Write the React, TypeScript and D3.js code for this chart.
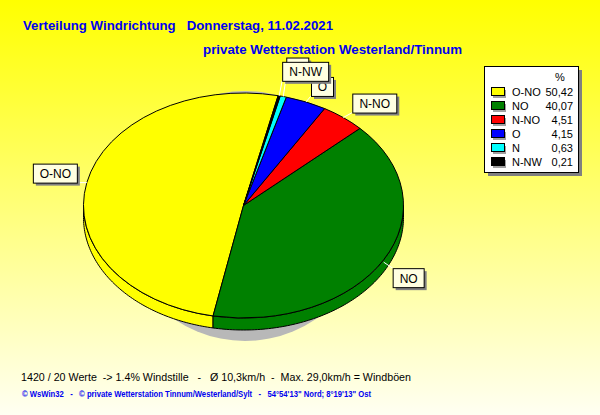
import React from "react";
import * as d3 from "d3";

// ---- data ----
const categories = ["O-NO", "NO", "N-NO", "O", "N", "N-NW"];
const percents = [50.42, 40.07, 4.51, 4.15, 0.63, 0.21];
const sliceColors = ["#ffff00", "#008000", "#ff0000", "#0000ff", "#00ffff", "#000000"];
const titleLine1 = "Verteilung Windrichtung   Donnerstag, 11.02.2021";
const titleLine2 = "private Wetterstation Westerland/Tinnum";
const footerLine1 = "1420 / 20 Werte  -> 1.4% Windstille   -   Ø 10,3km/h  -  Max. 29,0km/h = Windböen";
const footerLine2 = "© WsWin32   -   © private Wetterstation Tinnum/Westerland/Sylt   -   54°54'13\" Nord; 8°19'13\" Ost";

// ---- layout ----
const W = 600, H = 415;
const CX = 243.5, CY = 205.5, RX = 160, RY = 112.5, DEPTH = 12;
const START_DEG = 12.5;
const FONT = "'Liberation Sans', Arial, Helvetica, sans-serif";
// label box placement relative to its anchor point: corner of the box attached + offset
const labelLayout: { corner: string; dx: number; dy: number }[] = [
  { corner: "br", dx: -10, dy: 0 },
  { corner: "tl", dx: 9, dy: 6 },
  { corner: "bl", dx: 9, dy: -5 },
  { corner: "bl", dx: 5, dy: -6 },
  { corner: "bl", dx: 3, dy: -20 },
  { corner: "bl", dx: 3, dy: -15 },
];

const rad = (d: number) => (d * Math.PI) / 180;
const pt = (a: number, dy = 0): [number, number] => [CX + RX * Math.sin(a), CY - RY * Math.cos(a) + dy];

let ctx: CanvasRenderingContext2D | null = null;
function measure(text: string, font: string) {
  if (!ctx) ctx = document.createElement("canvas").getContext("2d");
  if (!ctx) return text.length * 7;
  ctx.font = font;
  return ctx.measureText(text).width;
}

export default function App() {
  const data = categories.map((c, i) => ({ name: c, value: percents[i], color: sliceColors[i] }));
  const pie = d3
    .pie<any>()
    .sort(null)
    .value((d) => d.value)
    .startAngle(rad(START_DEG))
    .endAngle(rad(START_DEG - 360));
  const arcs = pie(data);
  const arcGen = d3.arc<any>().innerRadius(0).outerRadius(RX);
  const k = RY / RX;

  // side walls (front half: d3 angle in [90,270] mod 360)
  const sides: { d: string; color: string }[] = [];
  arcs.forEach((a) => {
    const lo = Math.min(a.startAngle, a.endAngle);
    const hi = Math.max(a.startAngle, a.endAngle);
    for (let n = -2; n <= 1; n++) {
      const fLo = rad(90 + 360 * n), fHi = rad(270 + 360 * n);
      const s = Math.max(lo, fLo), e = Math.min(hi, fHi);
      if (e > s) {
        const steps = d3.range(s, e, rad(1)).concat([e]);
        const top = steps.map((t) => pt(t));
        const bot = steps.slice().reverse().map((t) => pt(t, DEPTH));
        const line = d3.line();
        sides.push({ d: line(top.concat(bot))! + "Z", color: a.data.color });
      }
    }
  });

  const labelFont = `12px ${FONT}`;
  const labels = arcs.map((a, i) => {
    const mid = (a.startAngle + a.endAngle) / 2;
    const m = ((mid % (2 * Math.PI)) + 2 * Math.PI) % (2 * Math.PI);
    const front = m > Math.PI / 2 && m < (3 * Math.PI) / 2;
    const anchor = pt(mid, front ? DEPTH * 0.2 : 0);
    const w = Math.round(measure(a.data.name, labelFont)) + 13;
    const h = 19;
    const L = labelLayout[i];
    const cx = anchor[0] + L.dx, cy = anchor[1] + L.dy;
    let x = cx, y = cy;
    if (L.corner === "br") { x = cx - w; y = cy - h; }
    if (L.corner === "bl") { x = cx; y = cy - h; }
    if (L.corner === "tl") { x = cx; y = cy; }
    return { name: a.data.name, anchor, corner: [cx, cy], x, y, w, h };
  });

  const fmt = (v: number) => d3.format(".2f")(v).replace(".", ",");
  const legendX = 484, legendY = 66, legendW = 94, legendH = 106;
  const rowY = d3.scaleLinear().domain([0, 1]).range([legendY + 26, legendY + 40]);

  return (
    <svg width={W} height={H} style={{ position: "fixed", left: 0, top: 0 }} fontFamily={FONT}>
      <defs>
        <linearGradient id="bg" x1="0" y1="0" x2="0" y2="1">
          <stop offset="0" stopColor="#ffff00" />
          <stop offset="1" stopColor="#fffff2" />
        </linearGradient>
      </defs>
      <rect x={0} y={0} width={W} height={H} fill="url(#bg)" />

      {/* titles */}
      <text x={23} y={30} fontSize={13} fontWeight="bold" fill="#0000f0" textLength={310} lengthAdjust="spacingAndGlyphs" style={{ whiteSpace: "pre" }}>
        {titleLine1}
      </text>
      <text x={203} y={54} fontSize={13} fontWeight="bold" fill="#0000f0" textLength={259} lengthAdjust="spacingAndGlyphs">
        {titleLine2}
      </text>

      {/* shadow */}
      <ellipse cx={245} cy={216} rx={125} ry={125} fill="#b8b8b8" />

      {/* sides */}
      {sides.map((s, i) => (
        <path key={"s" + i} d={s.d} fill={s.color} stroke="#000" strokeWidth={1} strokeLinejoin="round" />
      ))}

      {/* top face */}
      <g transform={`translate(${CX},${CY}) scale(1,${k})`}>
        {arcs.map((a, i) => (
          <path key={"a" + i} d={arcGen(a)!} fill={a.data.color} stroke="#000" strokeWidth={1} vectorEffect="non-scaling-stroke" />
        ))}
      </g>

      {/* labels */}
      {labels.map((l, i) => (
        <g key={"l" + i}>
          <line x1={l.anchor[0]} y1={l.anchor[1]} x2={l.corner[0]} y2={l.corner[1]} stroke="#ffffff" strokeWidth={1} />
          <rect x={l.x + 3} y={l.y + 3} width={l.w} height={l.h} fill="#808080" />
          <rect x={l.x + 0.5} y={l.y + 0.5} width={l.w} height={l.h} fill="#ffffe1" stroke="#000" strokeWidth={1} />
          <text x={l.x + l.w / 2 + 0.5} y={l.y + l.h / 2 + 5} fontSize={12} textAnchor="middle" fill="#000">
            {l.name}
          </text>
        </g>
      ))}

      {/* legend */}
      <rect x={legendX + 4} y={legendY + 4} width={legendW} height={legendH} fill="#808080" />
      <rect x={legendX + 0.5} y={legendY + 0.5} width={legendW} height={legendH} fill="#ffffff" stroke="#000" />
      <text x={legendX + 76} y={legendY + 15} fontSize={11} textAnchor="middle" fill="#000">%</text>
      {data.map((d, i) => {
        const cy = rowY(i);
        return (
          <g key={"lg" + i}>
            <rect x={legendX + 9} y={cy - 2} width={13} height={8} fill="#a0a0a0" />
            <rect x={legendX + 7.5} y={cy - 4.5} width={13} height={8} fill={d.color} stroke="#000" />
            <text x={legendX + 28} y={cy + 4} fontSize={11} fill="#000">{d.name}</text>
            <text x={legendX + 89} y={cy + 4} fontSize={11} textAnchor="end" fill="#000">{fmt(d.value)}</text>
          </g>
        );
      })}

      {/* footer */}
      <text x={21} y={381} fontSize={11.5} fill="#000" textLength={390} lengthAdjust="spacingAndGlyphs" style={{ whiteSpace: "pre" }}>
        {footerLine1}
      </text>
      <text x={22} y={397} fontSize={8.5} fontWeight="bold" fill="#0000f0" textLength={349} lengthAdjust="spacingAndGlyphs" style={{ whiteSpace: "pre" }}>
        {footerLine2}
      </text>
    </svg>
  );
}
